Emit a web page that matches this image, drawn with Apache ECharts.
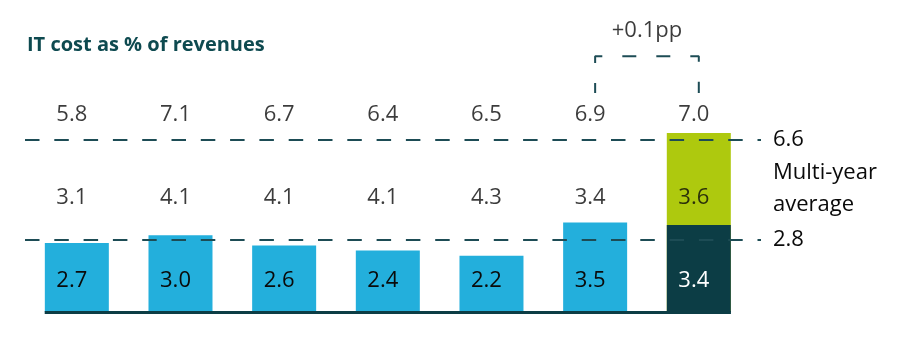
<!DOCTYPE html>
<html><head><meta charset="utf-8">
<script src="https://cdn.jsdelivr.net/npm/echarts@6/dist/echarts.min.js"></script>
<style>html,body{margin:0;padding:0;background:#fff}#c{width:900px;height:344px}</style>
</head><body><div id="c"></div>
<script>
// ---- data ----
const categories = ['Y1', 'Y2', 'Y3', 'Y4', 'Y5', 'Y6', 'Y7'];
const baseValues = [2.7, 3.0, 2.6, 2.4, 2.2, 3.5, 3.4];
const otherValues = [3.1, 4.1, 4.1, 4.1, 4.3, 3.4, 3.6];
const totalValues = [5.8, 7.1, 6.7, 6.4, 6.5, 6.9, 7.0];
const avgLabels = ['6.6', '2.8'];
const avgLineLevels = [6.75, 2.83];   // where the dashed lines are drawn in the reference
const titleText = 'IT cost as % of revenues';
const avgText = 'Multi-year\naverage';

// ---- styles ----
const BLUE = '#23afdc', DARK = '#0c3d45', GREEN = '#aec90e', LINE = '#1d4c55', TXT = '#0a0a0a';
const FONT = 'Open Sans';
const last = categories.length - 1;
const ROW_TOP = 7.7, ROW_MID = 4.45;
const halfBar = 0.31;

const chart = echarts.init(document.getElementById('c'), null, {renderer: 'canvas'});

const baseData = baseValues.map((v, i) => ({
  value: [i, v],
  itemStyle: {color: i === last ? DARK : BLUE},
  label: {color: i === last ? '#ffffff' : TXT}
}));
// the last year shows the split: upper (green) segment spans base..total
const greenData = [[last, baseValues[last] + otherValues[last]]];
const midData = otherValues.map((v, i) => [i, ROW_MID, v]);
const topData = totalValues.map((v, i) => [i, ROW_TOP, v]);
const diff = totalValues[last] - totalValues[last - 1];
const diffLabel = (diff >= 0 ? '+' : '') + diff.toFixed(1) + 'pp';

const textLabel = {
  show: true, position: 'inside', fontFamily: FONT, fontSize: 22, color: TXT, offset: [-5, 0],
  formatter: p => p.value[2].toFixed(1)
};

chart.setOption({
  animation: false,
  backgroundColor: '#fff',
  grid: {left: 25, right: 139, top: 5, bottom: 32},
  xAxis: {type: 'value', min: -0.5, max: 6.6, show: false},
  yAxis: {type: 'value', min: 0, max: 12, show: false},
  graphic: [
    {type: 'text', left: 27, top: 35, style: {text: titleText, fontFamily: FONT, fontWeight: 'bold', fontSize: 20, fill: '#0e4a50'}},
    {type: 'text', x: 773, y: 189, style: {text: avgText, fontFamily: FONT, fontSize: 22, lineHeight: 32, fill: TXT, verticalAlign: 'middle'}}
  ],
  series: [
    {
      type: 'bar', barWidth: 64, barGap: '-100%', data: greenData, itemStyle: {color: GREEN}, z: 1
    },
    {
      type: 'bar', barWidth: 64, barGap: '-100%', data: baseData, z: 2,
      label: {show: true, position: 'insideBottom', distance: 31, verticalAlign: 'middle',
              fontFamily: FONT, fontSize: 22, offset: [-5, 0], formatter: p => p.value[1].toFixed(1)}
    },
    {type: 'scatter', symbolSize: 0, data: midData, label: textLabel, z: 6},
    {type: 'scatter', symbolSize: 0, data: topData, label: textLabel, z: 6},
    {
      type: 'line', symbol: 'none', z: 5,
      data: [[last - 1, 8.56], [last - 1, 10.0], [last, 10.0], [last, 8.56]],
      lineStyle: {color: LINE, width: 2, type: [14, 20], dashOffset: 4}
    },
    {
      type: 'scatter', symbolSize: 0, z: 6, data: [[last - 0.5, 11.0]],
      label: {show: true, position: 'inside', fontFamily: FONT, fontSize: 22, color: TXT, formatter: diffLabel}
    },
    {
      type: 'line', data: [], z: 10,
      markLine: {
        silent: true, symbol: ['none', 'none'],
        data: [
          ...avgLineLevels.map((lv, k) => [
            {coord: [-0.5, lv], lineStyle: {color: LINE, width: 2, type: [14.5, 14.8]},
             label: {show: true, position: 'end', distance: 12, formatter: avgLabels[k], fontFamily: FONT, fontSize: 22, color: TXT}},
            {coord: [6.6, lv]}
          ]),
          [
            {coord: [0 - halfBar, 0], lineStyle: {color: DARK, width: 3, type: 'solid'}, label: {show: false}},
            {coord: [last + halfBar, 0]}
          ]
        ]
      }
    }
  ]
});
</script>
</body></html>
